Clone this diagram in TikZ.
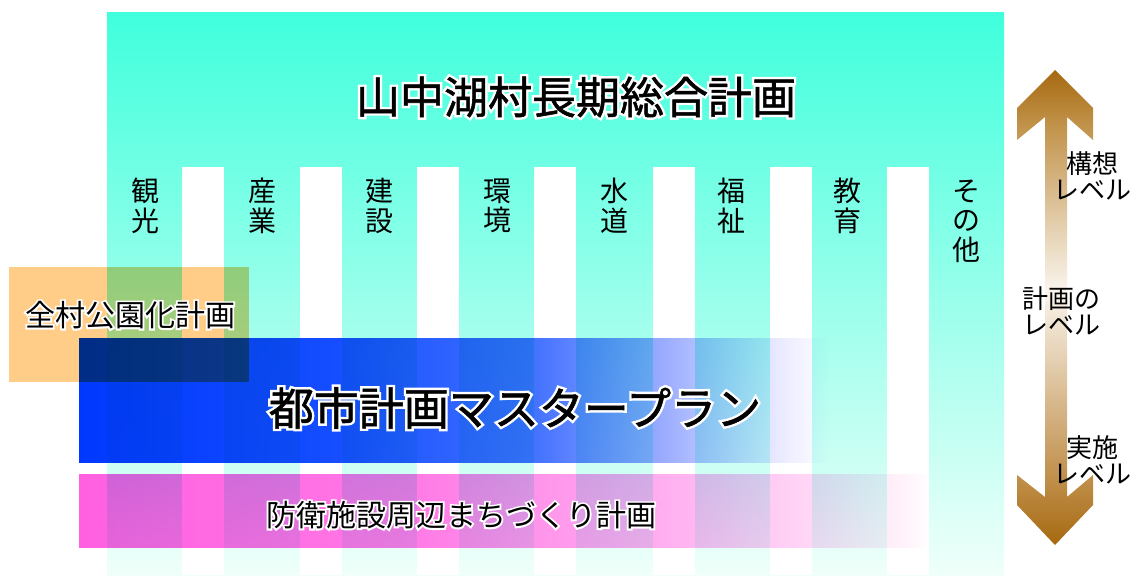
\documentclass[tikz,border=0pt]{standalone}
\usepackage{fontspec}
\newfontfamily\jp{Noto Sans CJK JP}
\newfontfamily\jpb{Noto Sans CJK JP}[FakeBold=1.2]
\newfontfamily\jphalo{Noto Sans CJK JP}[FakeBold=12]
\definecolor{orangebox}{RGB}{255,205,135}
\pgfdeclareverticalshading{bgshade}{100bp}{rgb(0bp)=(0.94,1,0.98); rgb(25bp)=(0.94,1,0.98); rgb(75bp)=(0.25,1,0.863); rgb(100bp)=(0.25,1,0.863)}
\pgfdeclarehorizontalshading{blueshade}{100bp}{rgb(0bp)=(0,0.22,1); rgb(25bp)=(0,0.22,1); rgb(41.7bp)=(0.08,0.3,1); rgb(55bp)=(0.25,0.44,1); rgb(63.7bp)=(0.6,0.67,1); rgb(71.7bp)=(0.92,0.92,1); rgb(75bp)=(1,1,1); rgb(100bp)=(1,1,1)}
\pgfdeclarehorizontalshading{pinkshade}{100bp}{rgb(0bp)=(1,0.376,0.878); rgb(25bp)=(1,0.376,0.878); rgb(43.9bp)=(1,0.47,0.9); rgb(59.7bp)=(1,0.69,0.94); rgb(66.8bp)=(1,0.82,0.96); rgb(73.5bp)=(1,0.95,0.98); rgb(75bp)=(1,1,1); rgb(100bp)=(1,1,1)}
\pgfdeclareverticalshading{arrowshade}{100bp}{rgb(0bp)=(0.65,0.41,0.06); rgb(25bp)=(0.65,0.41,0.06); rgb(31bp)=(0.74,0.54,0.26); rgb(51.8bp)=(0.98,0.96,0.93); rgb(69bp)=(0.76,0.58,0.3); rgb(75bp)=(0.65,0.41,0.06); rgb(100bp)=(0.65,0.41,0.06)}
% text with a white halo: a heavily emboldened white copy under the black text
% #1 name, #2 position, #3 size, #4 family of the black text, #5 text
\newcommand\halonode[5]{%
  \node[font=\jphalo#3,text=white,inner sep=0pt] at #2 {#5};%
  \node[font=#4#3,inner sep=0pt] (#1) at #2 {#5};}
\tikzset{
  collabel/.style={font=\jp\fontsize{28}{29.5}\selectfont,align=center,inner sep=0pt},
  levellabel/.style={font=\jp\fontsize{26}{26.5}\selectfont,align=center,inner sep=0pt},
}
\begin{document}
\begin{tikzpicture}[x=1pt,y=-1pt]
\useasboundingbox (0,0) rectangle (1139,575);
% background of the long-term plan
\path[shading=bgshade] (107,13) rectangle (1004,575);
\foreach \s in {182,300,417,534,653,770,887}{\fill[white] (\s,167) rectangle ++(42,408);}
% overlapping plans
\begin{scope}[blend mode=multiply]
  \fill[orangebox] (9,267) rectangle (249,382);
  \path[shading=blueshade] (79,338) rectangle (830,462);
  \path[shading=pinkshade] (79,474) rectangle (930,547);
\end{scope}
% title
\halonode{title}{(576,97)}{\fontsize{44}{44}\selectfont}{\jpb}{山中湖村長期総合計画}
% column labels
\node[collabel] (c1) at (145,206) {観\\光};
\node[collabel] (c2) at (262,206) {産\\業};
\node[collabel] (c3) at (379,206) {建\\設};
\node[collabel] (c4) at (497,206) {環\\境};
\node[collabel] (c5) at (614,206) {水\\道};
\node[collabel] (c6) at (731,206) {福\\祉};
\node[collabel] (c7) at (847,206) {教\\育};
\node[collabel] (c8) at (966,221) {そ\\の\\他};
% plan labels
\halonode{park}{(130,315)}{\fontsize{30}{30}\selectfont}{\jp}{全村公園化計画}
\halonode{master}{(515,408)}{\fontsize{45}{45}\selectfont}{\jpb}{都市計画マスタープラン}
\halonode{defense}{(461,515)}{\fontsize{30}{30}\selectfont}{\jp}{防衛施設周辺まちづくり計画}
% level arrow
\path[shading=arrowshade] (1055,70) -- (1093,108) -- (1093,140) -- (1067,117) -- (1067,497)
  -- (1093,475) -- (1093,505) -- (1055,545) -- (1017,505) -- (1017,475) -- (1045,497)
  -- (1045,117) -- (1017,140) -- (1017,108) -- cycle;
\node[levellabel] (l1) at (1092,176) {構想\\レベル};
\node[levellabel] (l2) at (1061,311) {計画の\\レベル};
\node[levellabel] (l3) at (1092,460) {実施\\レベル};
\end{tikzpicture}
\end{document}
